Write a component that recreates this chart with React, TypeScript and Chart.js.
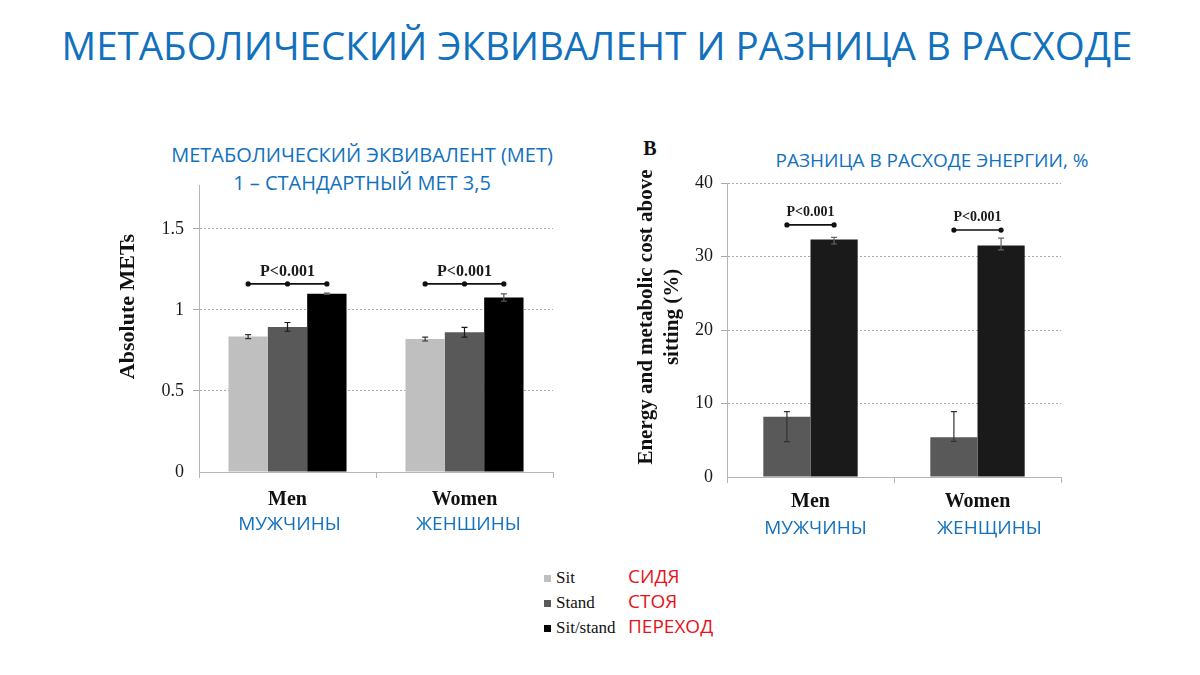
import React, { useEffect, useRef } from "react";
import { Chart, registerables } from "chart.js";

Chart.register(...registerables);

// ---------- data ----------
const categories = ["Men", "Women"];
const categoriesRu = ["МУЖЧИНЫ", "ЖЕНЩИНЫ"];
const seriesNames = ["Sit", "Stand", "Sit/stand"];
const seriesNamesRu = ["СИДЯ", "СТОЯ", "ПЕРЕХОД"];
const seriesColors = ["#bfbfbf", "#595959", "#000000"];

// Panel A: absolute METs
const metSit = [0.835, 0.82];
const metStand = [0.895, 0.862];
const metSitStand = [1.1, 1.076];
const metSitErr = [0.012, 0.012];
const metStandErr = [0.027, 0.03];
const metSitStandErr = [0.004, 0.022];
const metTicks = [0, 0.5, 1, 1.5];
const metBracket = [1.16, 1.16];

// Panel B: energy and metabolic cost above sitting (%)
const costStand = [8.2, 5.4];
const costSitStand = [32.3, 31.5];
const costStandErrUp = [0.7, 3.5];
const costStandErrDown = [3.4, 0.55];
const costSitStandErrUp = [0.3, 1.0];
const costSitStandErrDown = [0.6, 0.6];
const costTicks = [0, 10, 20, 30, 40];
const costBracket = [34.3, 33.6];

const pLabel = "P<0.001";
const mainTitle = "МЕТАБОЛИЧЕСКИЙ ЭКВИВАЛЕНТ И РАЗНИЦА В РАСХОДЕ";
const leftSubtitle = ["МЕТАБОЛИЧЕСКИЙ ЭКВИВАЛЕНТ (МЕТ)", "1 – СТАНДАРТНЫЙ МЕТ 3,5"];
const rightSubtitle = "РАЗНИЦА В РАСХОДЕ ЭНЕРГИИ, %";
const leftYTitle = ["Absolute METs"];
const rightYTitle = ["Energy and metabolic cost above", "sitting (%)"];

const SERIF = "'Liberation Serif', 'Times New Roman', serif";
const SANS = "'Open Sans', 'Noto Sans', sans-serif";
const BLUE = "#1271bd";
const RED = "#e3141c";

// ---------- plugins ----------
const errorBarPlugin = {
  id: "errorBars",
  afterDatasetsDraw(chart: any) {
    const ctx = chart.ctx;
    const y = chart.scales.y;
    chart.data.datasets.forEach((ds: any, i: number) => {
      const meta = chart.getDatasetMeta(i);
      meta.data.forEach((bar: any, j: number) => {
        const v = ds.data[j];
        const up = ds.errUp ? ds.errUp[j] : 0;
        const dn = ds.errDown ? ds.errDown[j] : 0;
        const yt = y.getPixelForValue(v + up);
        const yb = y.getPixelForValue(v - dn);
        ctx.save();
        ctx.strokeStyle = ds.errColor || "#222";
        ctx.lineWidth = 1.2;
        ctx.beginPath();
        ctx.moveTo(bar.x, yt);
        ctx.lineTo(bar.x, yb);
        ctx.moveTo(bar.x - 3, yt);
        ctx.lineTo(bar.x + 3, yt);
        ctx.moveTo(bar.x - 3, yb);
        ctx.lineTo(bar.x + 3, yb);
        ctx.stroke();
        ctx.restore();
      });
    });
  },
};

const bracketPlugin = {
  id: "pBracket",
  afterDatasetsDraw(chart: any, _args: any, opts: any) {
    if (!opts || !opts.values) return;
    const ctx = chart.ctx;
    const y = chart.scales.y;
    const from = chart.getDatasetMeta(opts.fromDs).data;
    const to = chart.getDatasetMeta(opts.toDs).data;
    const mid = opts.midDs != null ? chart.getDatasetMeta(opts.midDs).data : null;
    opts.values.forEach((val: number, j: number) => {
      const x1 = from[j].x;
      const x2 = to[j].x;
      const yy = y.getPixelForValue(val);
      ctx.save();
      ctx.strokeStyle = "#111";
      ctx.fillStyle = "#111";
      ctx.lineWidth = 1.6;
      ctx.beginPath();
      ctx.moveTo(x1, yy);
      ctx.lineTo(x2, yy);
      ctx.stroke();
      const dots = [x1, x2];
      if (mid) dots.push(mid[j].x);
      dots.forEach((dx) => {
        ctx.beginPath();
        ctx.arc(dx, yy, 2.6, 0, Math.PI * 2);
        ctx.fill();
      });
      ctx.font = opts.font;
      ctx.textAlign = "center";
      ctx.textBaseline = "middle";
      ctx.fillStyle = "#1a1a1a";
      ctx.fillText(opts.text, (x1 + x2) / 2, yy - opts.textGap);
      ctx.restore();
    });
  },
};

const ruLabelPlugin = {
  id: "ruLabels",
  afterDraw(chart: any, _args: any, opts: any) {
    if (!opts || !opts.labels) return;
    const ctx = chart.ctx;
    const x = chart.scales.x;
    ctx.save();
    ctx.font = opts.font;
    ctx.fillStyle = opts.color;
    ctx.textAlign = "center";
    ctx.textBaseline = "middle";
    opts.labels.forEach((l: string, i: number) => {
      ctx.fillText(l, x.getPixelForValue(i) + (opts.dx ? opts.dx[i] : 0), x.top + opts.offset);
    });
    ctx.restore();
  },
};

// rotated y-axis title, placed relative to the chart area centre
const yTitlePlugin = {
  id: "yTitle",
  afterDraw(chart: any, _args: any, opts: any) {
    if (!opts || !opts.lines) return;
    const ctx = chart.ctx;
    const area = chart.chartArea;
    const cy = (area.top + area.bottom) / 2 + opts.dy;
    ctx.save();
    ctx.font = opts.font;
    ctx.fillStyle = "#111";
    ctx.textAlign = "center";
    ctx.textBaseline = "middle";
    opts.lines.forEach((line: string, i: number) => {
      ctx.save();
      ctx.translate(opts.x + i * opts.lineGap, cy);
      ctx.rotate(-Math.PI / 2);
      ctx.fillText(line, 0, 0);
      ctx.restore();
    });
    ctx.restore();
  },
};

// ---------- shared scale builder ----------
function makeScales(opt: {
  max: number;
  ticks: number[];
  yWidth: number;
  xHeight: number;
  tickPad: number;
  xPad: number;
}) {
  return {
    x: {
      type: "category",
      offset: true,
      grid: {
        display: true,
        offset: true,
        drawOnChartArea: false,
        drawTicks: true,
        tickLength: 6,
        color: "#b5b5b5",
      },
      border: { display: true, color: "#b5b5b5", width: 1 },
      ticks: {
        font: { family: SERIF, size: 20, weight: "bold" },
        color: "#111",
        padding: opt.xPad,
      },
      afterFit: (s: any) => {
        s.height = opt.xHeight;
      },
    },
    y: {
      type: "linear",
      min: 0,
      max: opt.max,
      afterBuildTicks: (axis: any) => {
        axis.ticks = opt.ticks.map((value) => ({ value }));
      },
      afterFit: (s: any) => {
        s.width = opt.yWidth;
      },
      border: { display: true, color: "#b5b5b5", width: 1, dash: [2, 2] },
      grid: {
        color: (c: any) => (c.tick && c.tick.value === 0 ? "rgba(0,0,0,0)" : "#a8a8a8"),
        lineWidth: 1,
        drawTicks: true,
        tickLength: 6,
      },
      ticks: {
        font: { family: SERIF, size: 18, lineHeight: 1 },
        color: "#1a1a1a",
        padding: opt.tickPad,
        callback: (v: any) => String(v),
      },
    },
  };
}

function MetChart() {
  const ref = useRef<HTMLCanvasElement>(null);
  useEffect(() => {
    const chart = new Chart(ref.current as HTMLCanvasElement, {
      type: "bar",
      data: {
        labels: categories,
        datasets: [
          { label: seriesNames[0], data: metSit, backgroundColor: seriesColors[0], errUp: metSitErr, errDown: metSitErr, errColor: "#333" } as any,
          { label: seriesNames[1], data: metStand, backgroundColor: seriesColors[1], errUp: metStandErr, errDown: metStandErr, errColor: "#1a1a1a" } as any,
          { label: seriesNames[2], data: metSitStand, backgroundColor: seriesColors[2], errUp: metSitStandErr, errDown: metSitStandErr, errColor: "#555" } as any,
        ],
      },
      options: {
        responsive: false,
        animation: false,
        devicePixelRatio: 1,
        datasets: { bar: { barPercentage: 1, categoryPercentage: 0.667 } },
        layout: { padding: { left: 0, right: 17, top: 0, bottom: 0 } },
        scales: makeScales({
          max: 1.77,
          ticks: metTicks,
          yWidth: 99,
          xHeight: 58,
          tickPad: 9,
          xPad: 10,
        }) as any,
        plugins: {
          legend: { display: false },
          tooltip: { enabled: false },
          pBracket: { values: metBracket, fromDs: 0, toDs: 2, midDs: 1, text: pLabel, font: `bold 16px ${SERIF}`, textGap: 12 },
          ruLabels: { labels: categoriesRu, font: `19px ${SANS}`, color: BLUE, offset: 53, dx: [2, 4] },
          yTitle: { lines: leftYTitle, font: `bold 22px ${SERIF}`, x: 28, lineGap: 0, dy: -22 },
        } as any,
      },
      plugins: [errorBarPlugin, bracketPlugin, ruLabelPlugin, yTitlePlugin],
    });
    return () => chart.destroy();
  }, []);
  return <canvas ref={ref} width={470} height={363} style={{ position: "absolute", left: 100, top: 167 }} />;
}

function CostChart() {
  const ref = useRef<HTMLCanvasElement>(null);
  useEffect(() => {
    const chart = new Chart(ref.current as HTMLCanvasElement, {
      type: "bar",
      data: {
        labels: categories,
        datasets: [
          { label: seriesNames[1], data: costStand, backgroundColor: seriesColors[1], errUp: costStandErrUp, errDown: costStandErrDown, errColor: "#333" } as any,
          { label: seriesNames[2], data: costSitStand, backgroundColor: "#1a1a1a", errUp: costSitStandErrUp, errDown: costSitStandErrDown, errColor: "#666" } as any,
        ],
      },
      options: {
        responsive: false,
        animation: false,
        devicePixelRatio: 1,
        datasets: { bar: { barPercentage: 1, categoryPercentage: 0.565 } },
        layout: { padding: { left: 0, right: 19, top: 0, bottom: 0 } },
        scales: makeScales({
          max: 40,
          ticks: costTicks,
          yWidth: 107,
          xHeight: 63,
          tickPad: 8,
          xPad: 7,
        }) as any,
        plugins: {
          legend: { display: false },
          tooltip: { enabled: false },
          pBracket: { values: costBracket, fromDs: 0, toDs: 1, midDs: null, text: pLabel, font: `bold 14px ${SERIF}`, textGap: 13 },
          ruLabels: { labels: categoriesRu, font: `19px ${SANS}`, color: BLUE, offset: 52, dx: [5, 12] },
          yTitle: { lines: rightYTitle, font: `bold 21px ${SERIF}`, x: 27, lineGap: 26, dy: -13 },
        } as any,
      },
      plugins: [errorBarPlugin, bracketPlugin, ruLabelPlugin, yTitlePlugin],
    });
    return () => chart.destroy();
  }, []);
  return <canvas ref={ref} width={460} height={374} style={{ position: "absolute", left: 620, top: 166 }} />;
}

const centered = (x: number, y: number, size: number, color: string, family: string, extra: any = {}) => ({
  position: "absolute" as const,
  left: x,
  top: y - size * 0.5,
  transform: "translateX(-50%)",
  fontSize: size,
  lineHeight: `${size}px`,
  color,
  fontFamily: family,
  whiteSpace: "nowrap" as const,
  ...extra,
});

export default function App() {
  return (
    <div style={{ position: "absolute", left: 0, top: 0, width: 1200, height: 675, background: "#fff", overflow: "hidden" }}>
      <div style={centered(597, 45, 38.5, BLUE, SANS)}>{mainTitle}</div>
      <div style={centered(362, 155, 20, BLUE, SANS)}>{leftSubtitle[0]}</div>
      <div style={centered(362, 183, 20, BLUE, SANS)}>{leftSubtitle[1]}</div>
      <div style={centered(932, 160, 19, BLUE, SANS)}>{rightSubtitle}</div>
      <div style={centered(650, 148, 20, "#111", SERIF, { fontWeight: "bold" })}>B</div>
      <MetChart />
      <CostChart />
      {seriesNames.map((name, i) => (
        <React.Fragment key={name}>
          <div style={{ position: "absolute", left: 544, top: 575 + i * 25, width: 7, height: 7, background: seriesColors[i] }} />
          <div style={{ position: "absolute", left: 556, top: 569 + i * 25, fontSize: 17, lineHeight: "18px", fontFamily: SERIF, color: "#111" }}>{name}</div>
          <div style={{ position: "absolute", left: 628, top: 566 + i * 25, fontSize: 19, lineHeight: "20px", fontFamily: SANS, color: RED }}>{seriesNamesRu[i]}</div>
        </React.Fragment>
      ))}
    </div>
  );
}
